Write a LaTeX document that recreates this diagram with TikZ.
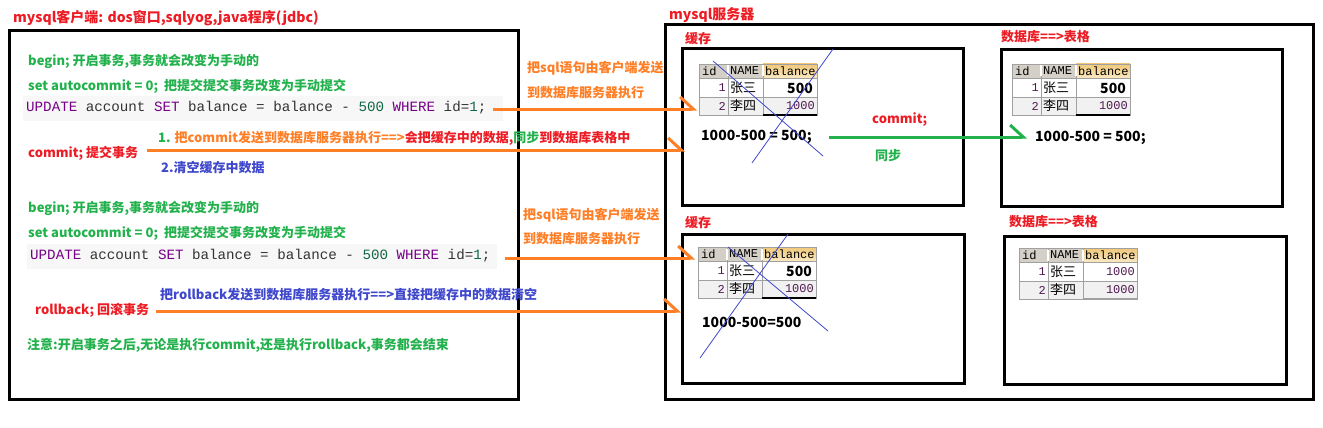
\documentclass[tikz,border=0pt]{standalone}
\usepackage{fontspec}
\setmainfont{Noto Sans CJK SC}
\newfontfamily\codefont{Liberation Mono}[WordSpace={1,0,0}]
\usetikzlibrary{arrows.meta}

\definecolor{pred}{RGB}{237,28,36}
\definecolor{pgreen}{RGB}{34,177,76}
\definecolor{porange}{RGB}{255,127,39}
\definecolor{pblue}{RGB}{63,72,204}
\definecolor{kwpurple}{RGB}{119,0,136}
\definecolor{numgreen}{RGB}{17,102,68}
\definecolor{codetext}{RGB}{51,51,51}
\definecolor{codebg}{RGB}{247,247,247}
\definecolor{hdrgray}{RGB}{212,208,200}
\definecolor{hdrtop}{RGB}{240,200,120}
\definecolor{hdrbot}{RGB}{250,232,195}
\definecolor{gridgray}{RGB}{160,160,160}
\definecolor{rowgray}{RGB}{241,241,241}
\definecolor{valpurple}{RGB}{80,25,80}

\newcommand{\kw}[1]{\textcolor{kwpurple}{#1}}
\newcommand{\num}[1]{\textcolor{numgreen}{#1}}
\newcommand{\cs}{\hspace*{0.6em}}

% one account table: name, top left corner, style and text of the first balance, edge under the last balance
\newcommand{\acctable}[5]{%
  \begin{scope}[shift={#2}]
    \fill[hdrgray] (0,0) rectangle (64,14);
    \shade[top color=hdrtop, bottom color=hdrbot] (64,0) rectangle (118,14);
    \fill[rowgray] (0,33) rectangle (118,51);
    \draw[gridgray] (0,0) rectangle (118,51) (0,14) -- (118,14) (0,33) -- (118,33)
      (29,0) -- (29,51) (64,0) -- (64,51);
    \draw[white, line width=1.2] (29,1.5) -- (29,12.5) (64,1.5) -- (64,12.5);
    \draw[#5, line width=1.2] (64,51) -- (118,51);
    \node[hcell] (#1-id) at (3,7) {id};
    \node[hcell] (#1-name) at (31,7) {NAME};
    \node[hcell] (#1-bal) at (66,7) {balance};
    \node[numcell] (#1-k1) at (27,24) {1};
    \node[cjkcell] (#1-n1) at (31,24) {张三};
    \node[numcell, #3] (#1-b1) at (116,24) {#4};
    \node[numcell] (#1-k2) at (27,42) {2};
    \node[cjkcell] (#1-n2) at (31,42) {李四};
    \node[numcell] (#1-b2) at (116,42) {1000};
  \end{scope}}

\begin{document}
\begin{tikzpicture}[x=1pt, y=-1pt,
    txt/.style={anchor=west, inner sep=0pt, font=\bfseries\fontsize{13}{15}\selectfont},
    code/.style={anchor=west, fill=codebg, text=codetext, inner xsep=3pt, inner ysep=0pt,
      minimum height=25pt, align=left, font=\codefont\fontsize{14.2}{16}\selectfont},
    calc/.style={anchor=west, inner sep=0pt, font=\bfseries\fontsize{14}{16}\selectfont},
    frame/.style={draw, line width=3pt, anchor=north west, inner sep=0pt},
    arr/.style={porange, line width=3pt, -{Straight Barb[harpoon, length=13pt, width=24pt]}},
    cross/.style={pblue, line width=0.8pt},
    hcell/.style={anchor=west, inner sep=0pt, font=\codefont\fontsize{12}{14}\selectfont},
    numcell/.style={anchor=east, inner sep=0pt, text=valpurple, font=\codefont\fontsize{12}{14}\selectfont},
    cjkcell/.style={anchor=west, inner sep=0pt, font=\fontsize{13}{15}\selectfont},
    newbal/.style={fill=white, text=black, inner xsep=2pt, inner ysep=1pt, font=\bfseries\fontsize{14}{16}\selectfont}]

  \useasboundingbox (0,0) rectangle (1323,428);

  \def\lx{28}

  %client side
  \node[txt, text=pred, font=\bfseries\fontsize{14}{16}\selectfont] (title) at (13,18) {mysql客户端: dos窗口,sqlyog,java程序(jdbc)};
  \node[frame, minimum width=509pt, minimum height=369pt] (client) at (8,29) {};

  \node[txt, text=pgreen] (begin1) at (\lx,61) {begin; 开启事务,事务就会改变为手动的};
  \node[txt, text=pgreen] (auto1) at (\lx,86) {set autocommit = 0;\ \ 把提交提交事务改变为手动提交};
  \node[code, text width=474pt] (upd1) at (23,108) {\kw{UPDATE}\cs account\cs\kw{SET}\cs balance\cs=\cs balance\cs-\cs\num{500}\cs\kw{WHERE}\cs id=\num{1};};
  \node[txt] (step1) at (158,138) {\textcolor{pgreen}{1.} \textcolor{porange}{把commit发送到数据库服务器执行==>}\textcolor{pred}{会把缓存中的数据,}\textcolor{pgreen}{同步}\textcolor{pred}{到数据库表格中}};
  \node[txt, text=pred] (commit) at (\lx,153) {commit; 提交事务};
  \node[txt, text=pblue] (step2) at (161,168) {2.清空缓存中数据};

  \node[txt, text=pgreen] (begin2) at (\lx,208) {begin; 开启事务,事务就会改变为手动的};
  \node[txt, text=pgreen] (auto2) at (\lx,233) {set autocommit = 0;\ \ 把提交提交事务改变为手动提交};
  \node[code, text width=464pt] (upd2) at (27,256) {\kw{UPDATE}\cs account\cs\kw{SET}\cs balance\cs=\cs balance\cs-\cs\num{500}\cs\kw{WHERE}\cs id=\num{1};};
  \node[txt, text=pblue] (rbnote) at (160,295) {把rollback发送到数据库服务器执行==>直接把缓存中的数据清空};
  \node[txt, text=pred] (rollback) at (35,310) {rollback; 回滚事务};
  \node[txt, text=pgreen] (note) at (27,345) {注意:开启事务之后,无论是执行commit,还是执行rollback,事务都会结束};

  %in between
  \node[txt, text=porange] (send1a) at (527,68) {把sql语句由客户端发送};
  \node[txt, text=porange] (send1b) at (527,93) {到数据库服务器执行};
  \node[txt, text=porange] (send2a) at (523,215) {把sql语句由客户端发送};
  \node[txt, text=porange] (send2b) at (523,239) {到数据库服务器执行};

  %server side
  \node[txt, text=pred, font=\bfseries\fontsize{14}{16}\selectfont] (servertitle) at (669,15) {mysql服务器};
  \node[frame, minimum width=648pt, minimum height=375pt] (server) at (664,23) {};

  \node[txt, text=pred] (cache1lbl) at (685,39) {缓存};
  \node[frame, minimum width=281pt, minimum height=157pt] (cache1) at (681,47) {};
  \node[txt, text=pred] (db1lbl) at (1001,37) {数据库==>表格};
  \node[frame, minimum width=281pt, minimum height=157pt] (db1) at (1000,48) {};
  \node[txt, text=pred] (cache2lbl) at (685,223) {缓存};
  \node[frame, minimum width=282pt, minimum height=149pt] (cache2) at (681,233) {};
  \node[txt, text=pred] (db2lbl) at (1009,222) {数据库==>表格};
  \node[frame, minimum width=282pt, minimum height=148pt] (db2) at (1003,235) {};

  \acctable{t1}{(699,64)}{newbal}{500}{black}
  \acctable{t2}{(1012,64)}{newbal}{500}{black}
  \acctable{t3}{(698,247)}{newbal}{500}{black}
  \acctable{t4}{(1019,248)}{}{1000}{gridgray}

  \node[calc] (calc1) at (701,137) {1000-500 = 500;};
  \node[calc] (calc2) at (1035,138) {1000-500 = 500;};
  \node[calc] (calc3) at (702,322) {1000-500=500};

  \node[txt, text=pred] (commitlbl) at (872,120) {commit;};
  \node[txt, text=pgreen] (synclbl) at (875,156) {同步};

  %crossed out
  \draw[cross] (713,61) -- (823,156);
  \draw[cross] (833,49) -- (752,163);
  \draw[cross] (728,247) -- (828,331);
  \draw[cross] (788,234) -- (700,358);

  %arrows
  \coordinate (in1) at (697,109);
  \coordinate (in2) at (685,150);
  \coordinate (in3) at (695,258);
  \coordinate (in4) at (681,311);
  \coordinate (in5) at (1027,137);

  \draw[arr] ([xshift=-10pt]upd1.east |- in1) -- (in1);
  \draw[arr] ([xshift=9pt]commit.east |- in2) -- (in2);
  \draw[arr] ([xshift=8pt]upd2.east |- in3) -- (in3);
  \draw[arr] ([xshift=7pt]rollback.east |- in4) -- (in4);
  \draw[arr, pgreen] ([xshift=17pt]calc1.east |- in5) -- (in5);

\end{tikzpicture}
\end{document}
